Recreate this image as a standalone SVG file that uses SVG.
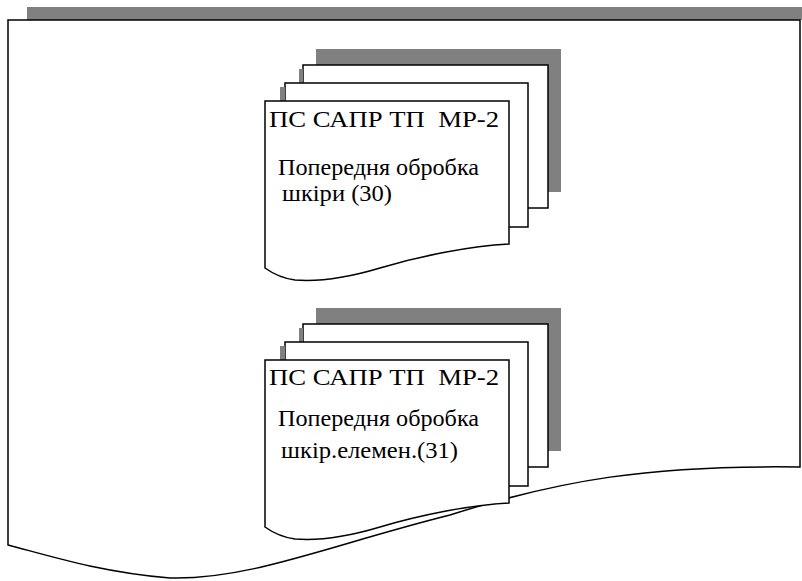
<svg xmlns="http://www.w3.org/2000/svg" width="802" height="581" viewBox="0 0 802 581">
<defs>
<g id="stack" stroke="#000" stroke-width="1.5">
<rect fill="#808080" stroke="none" x="316" y="49" width="245" height="143"/>
<rect fill="#fff" x="303" y="65" width="245" height="143"/>
<rect fill="#808080" stroke="none" x="299" y="69" width="4" height="14"/>
<rect fill="#fff" x="285" y="83" width="243" height="144"/>
<rect fill="#808080" stroke="none" x="280" y="87" width="5" height="14"/>
<path fill="#fff" d="M265,101 L509,101 L509,244 C470,246 420,256 380,268 C350,277 320,282 295,280 C280,278 272,273 265,268 Z"/>
</g>
</defs>
<rect width="802" height="581" fill="#fff"/>
<g id="main-document">
<rect fill="#808080" x="27" y="7" width="775" height="13"/>
<path fill="#fff" stroke="#000" stroke-width="1.5" d="M8,20 L800,20 L800,467 C650,465 560,480 450,515 C330,545 250,580 170,578 C100,572 50,556 8,545 Z"/>
</g>
<g id="node-30">
<use href="#stack"/>
<text font-family="Liberation Serif" font-size="24" x="269" y="127" xml:space="preserve" textLength="230" lengthAdjust="spacingAndGlyphs">ПС САПР ТП  МР-2</text>
<text font-family="Liberation Serif" font-size="24" x="278" y="175" textLength="201" lengthAdjust="spacingAndGlyphs">Попередня обробка</text>
<text font-family="Liberation Serif" font-size="24" x="282" y="201" textLength="110" lengthAdjust="spacingAndGlyphs">шкіри (30)</text>
</g>
<g id="node-31">
<use href="#stack" transform="translate(0,259)"/>
<text font-family="Liberation Serif" font-size="24" x="269" y="385" xml:space="preserve" textLength="230" lengthAdjust="spacingAndGlyphs">ПС САПР ТП  МР-2</text>
<text font-family="Liberation Serif" font-size="24" x="278" y="426" textLength="201" lengthAdjust="spacingAndGlyphs">Попередня обробка</text>
<text font-family="Liberation Serif" font-size="24" x="281" y="458" textLength="177" lengthAdjust="spacingAndGlyphs">шкір.елемен.(31)</text>
</g>
<g id="connectors"/>
</svg>
